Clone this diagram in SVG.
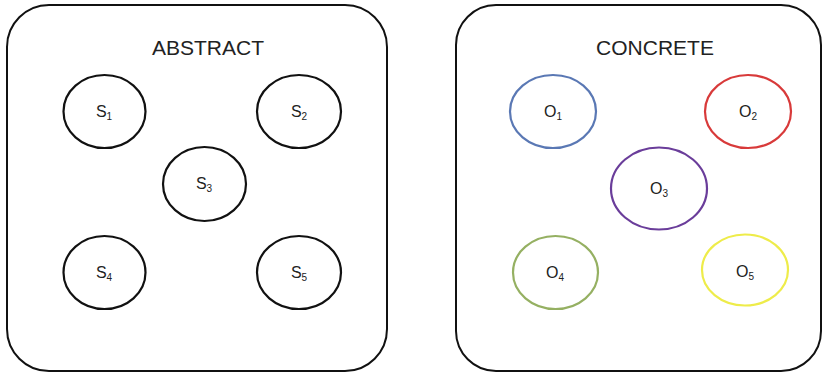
<svg xmlns="http://www.w3.org/2000/svg" width="824" height="374" viewBox="0 0 824 374">
<style>
.box{fill:#fff;stroke:#111;stroke-width:2}
.title{font-family:"Liberation Sans",Arial,sans-serif;font-size:21px;fill:#222;text-anchor:middle}
.n{fill:none;stroke-width:2.2}
.lbl{font-family:"Liberation Sans",Arial,sans-serif;font-size:16px;fill:#222;text-anchor:middle}
.sub{font-size:10px}
</style>
<rect width="824" height="374" fill="#fff"/>
<g id="abstract">
<rect class="box" x="7" y="5" width="380" height="366" rx="42"/>
<text class="title" x="208" y="55">ABSTRACT</text>
</g>
<g id="concrete">
<rect class="box" x="456" y="5" width="365" height="366" rx="40"/>
<text class="title" x="655" y="55">CONCRETE</text>
</g>
<g id="S1"><ellipse class="n" stroke="#111" cx="104.5" cy="111.5" rx="41" ry="36.5"/><text class="lbl" x="104" y="117">S<tspan class="sub" dy="3">1</tspan></text></g>
<g id="S2"><ellipse class="n" stroke="#111" cx="299" cy="111.5" rx="42" ry="36.5"/><text class="lbl" x="299" y="117">S<tspan class="sub" dy="3">2</tspan></text></g>
<g id="S3"><ellipse class="n" stroke="#111" cx="204.5" cy="184" rx="41.5" ry="37"/><text class="lbl" x="204" y="189">S<tspan class="sub" dy="3">3</tspan></text></g>
<g id="S4"><ellipse class="n" stroke="#111" cx="104.5" cy="272.5" rx="41" ry="36.5"/><text class="lbl" x="104" y="278">S<tspan class="sub" dy="3">4</tspan></text></g>
<g id="S5"><ellipse class="n" stroke="#111" cx="299" cy="272.5" rx="42" ry="36.5"/><text class="lbl" x="299" y="278">S<tspan class="sub" dy="3">5</tspan></text></g>
<g id="O1"><ellipse class="n" stroke="#5a78b4" cx="553" cy="111.5" rx="43" ry="36.5"/><text class="lbl" x="553" y="117">O<tspan class="sub" dy="3">1</tspan></text></g>
<g id="O2"><ellipse class="n" stroke="#d83a3a" cx="748" cy="111.5" rx="43" ry="36.5"/><text class="lbl" x="748" y="117">O<tspan class="sub" dy="3">2</tspan></text></g>
<g id="O3"><ellipse class="n" stroke="#6a3d9a" cx="659" cy="188.5" rx="48" ry="41"/><text class="lbl" x="659" y="194">O<tspan class="sub" dy="3">3</tspan></text></g>
<g id="O4"><ellipse class="n" stroke="#95b062" cx="555.5" cy="272.5" rx="42.5" ry="36.5"/><text class="lbl" x="555" y="278">O<tspan class="sub" dy="3">4</tspan></text></g>
<g id="O5"><ellipse class="n" stroke="#eeec4a" cx="745" cy="270" rx="43" ry="35.5"/><text class="lbl" x="745" y="277">O<tspan class="sub" dy="3">5</tspan></text></g>
<g id="connectors"/>
</svg>
